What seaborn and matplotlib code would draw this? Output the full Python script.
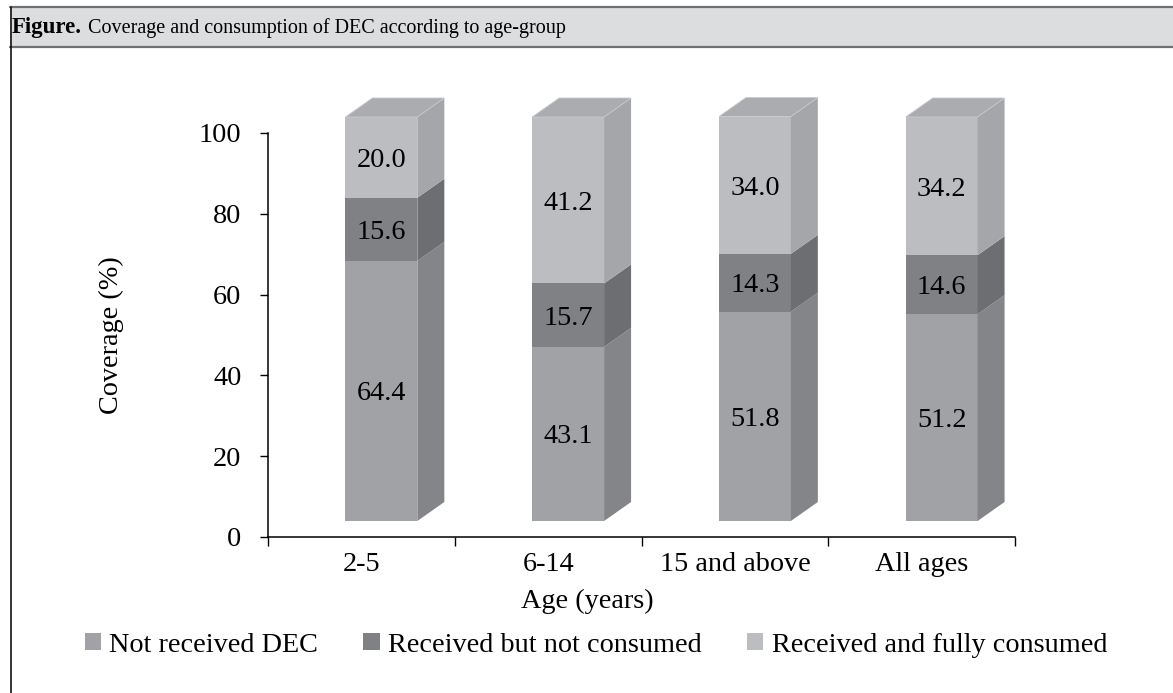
import numpy as np
import pandas as pd
import matplotlib
matplotlib.use("Agg")
import matplotlib.pyplot as plt
import seaborn as sns
from matplotlib.patches import Polygon, Rectangle, Patch
from matplotlib.lines import Line2D
from matplotlib.transforms import Affine2D

# ── Data ───────────────────────────────────────────────────────────────────────
age_groups = ["2-5", "6-14", "15 and above", "All ages"]
not_received = [64.4, 43.1, 51.8, 51.2]
received_not_consumed = [15.6, 15.7, 14.3, 14.6]
fully_consumed = [20.0, 41.2, 34.0, 34.2]
series_names = ["Not received DEC", "Received but not consumed",
                "Received and fully consumed"]
y_ticks = [0, 20, 40, 60, 80, 100]

title_bold = "Figure."
title_rest = "Coverage and consumption of DEC according to age-group"

# ── Style ──────────────────────────────────────────────────────────────────────
front_colors = ["#a1a2a6", "#808185", "#bcbdc1"]
side_colors = ["#848589", "#6d6e71", "#a5a6aa"]
top_color = "#abacb0"
FRONT_DX, FRONT_DY = 20, 16   # px shift of the front faces
DEPTH_DX, DEPTH_DY = 27, 19   # px depth of the 3d boxes
BAR_W = 0.385
FS = 20.3
W, H = 1173, 693

sns.set_theme(style="white")
plt.rcParams["font.family"] = ["Liberation Serif", "DejaVu Serif"]

fig = plt.figure(figsize=(W / 100, H / 100), dpi=100)
ax = fig.add_axes([268 / W, 1 - 537 / H, (1015 - 268) / W, 404 / H])

# ── Stacked front faces (overdrawn cumulative bars) ───────────────────────────
df = pd.DataFrame({"age": age_groups, "s0": not_received,
                   "s1": received_not_consumed, "s2": fully_consumed})
df["c0"] = df["s0"]
df["c1"] = df["c0"] + df["s1"]
df["c2"] = df["c1"] + df["s2"]

for col, c in zip(["c2", "c1", "c0"], front_colors[::-1]):
    sns.barplot(data=df, x="age", y=col, order=age_groups, color=c,
                saturation=1, width=BAR_W, linewidth=0, errorbar=None, ax=ax)

ax.set_xlim(-0.5, 3.5)
ax.set_ylim(0, 100)

front_tr = ax.transData + Affine2D().translate(FRONT_DX, FRONT_DY)
for p in ax.patches:
    p.set_transform(front_tr)
    p.set_clip_on(False)


def shifted(x, y, px, py):
    X, Y = ax.transData.transform((x, y))
    return ax.transData.inverted().transform((X + px, Y + py))


# ── Side and top faces, value labels ──────────────────────────────────────────
series_vals = [not_received, received_not_consumed, fully_consumed]
for i in range(len(age_groups)):
    xl, xr = i - BAR_W / 2, i + BAR_W / 2
    bottoms = [0, df["c0"][i], df["c1"][i]]
    tops = [df["c0"][i], df["c1"][i], df["c2"][i]]
    for k in range(3):
        b, t = bottoms[k], tops[k]
        pts = [shifted(xr, b, FRONT_DX, FRONT_DY),
               shifted(xr, t, FRONT_DX, FRONT_DY),
               shifted(xr, t, FRONT_DX + DEPTH_DX, FRONT_DY + DEPTH_DY),
               shifted(xr, b, FRONT_DX + DEPTH_DX, FRONT_DY + DEPTH_DY)]
        ax.add_patch(Polygon(pts, closed=True, facecolor=side_colors[k],
                             edgecolor="none", clip_on=False))
        ax.text(i, (b + t) / 2, f"{series_vals[k][i]:.1f}",
                transform=front_tr, ha="center", va="center_baseline",
                fontsize=FS, color="black")
    t = tops[-1]
    pts = [shifted(xl, t, FRONT_DX, FRONT_DY),
           shifted(xr, t, FRONT_DX, FRONT_DY),
           shifted(xr, t, FRONT_DX + DEPTH_DX, FRONT_DY + DEPTH_DY),
           shifted(xl, t, FRONT_DX + DEPTH_DX, FRONT_DY + DEPTH_DY)]
    ax.add_patch(Polygon(pts, closed=True, facecolor=top_color,
                         edgecolor="#c8c9cc", linewidth=0.6, clip_on=False))

# ── Axes ───────────────────────────────────────────────────────────────────────
ax.set_xticks(np.arange(-0.5, len(age_groups), 1))
ax.set_xticklabels([])
ax.set_xticks(range(len(age_groups)), minor=True)
ax.set_xticklabels(age_groups, minor=True)
ax.set_yticks(y_ticks)
ax.set_yticklabels([str(v) for v in y_ticks])
ax.tick_params(axis="x", which="major", bottom=True, length=6.5, width=1,
               color="black", direction="out")
ax.tick_params(axis="x", which="minor", bottom=True, length=0, pad=11,
               labelsize=FS, labelcolor="black")
ax.tick_params(axis="y", left=True, length=6, width=1, color="black",
               direction="out", pad=13, labelsize=FS, labelcolor="black")
for s in ["top", "right"]:
    ax.spines[s].set_visible(False)
for s in ["left", "bottom"]:
    ax.spines[s].set_color("black")
    ax.spines[s].set_linewidth(1.1)
ax.set_facecolor("none")

ax.set_ylabel("Coverage (%)", fontsize=FS, color="black")
ax.yaxis.set_label_coords(-0.193, 0.5)
ax.set_xlabel("Age (years)", fontsize=FS, color="black")
ax.xaxis.set_label_coords(0.427, -0.16)
ax.xaxis.label.set_verticalalignment("center")

# ── Legend ─────────────────────────────────────────────────────────────────────
handles = [Patch(facecolor=c, edgecolor="none") for c in front_colors]
fig.legend(handles, series_names, loc="center",
           bbox_to_anchor=(596 / W, 1 - 645 / H), ncol=3, frameon=False,
           fontsize=FS, handlelength=0.58, handleheight=0.58,
           handletextpad=0.3, columnspacing=1.6, labelcolor="black")

# ── Header box ─────────────────────────────────────────────────────────────────
fig.add_artist(Rectangle((10 / W, 1 - 47 / H), 1 - 10 / W, 40 / H,
                         transform=fig.transFigure, facecolor="#dcdddf",
                         edgecolor="none"))
for yy in [7, 47]:
    fig.add_artist(Line2D([10 / W, 1], [1 - yy / H] * 2, color="#707070",
                          lw=1.6, transform=fig.transFigure))
fig.add_artist(Line2D([10.5 / W] * 2, [1 - 7 / H, 0], color="black", lw=1.1,
                      transform=fig.transFigure))

t1 = fig.text(12 / W, 1 - 28 / H, title_bold, fontweight="bold", fontsize=16.5,
              va="center", ha="left", color="black")
renderer = fig.canvas.get_renderer()
bb = t1.get_window_extent(renderer=renderer)
fig.text((bb.x1 + 6) / W, 1 - 28 / H, title_rest, fontsize=14.5,
         va="center", ha="left", color="black")

fig.savefig("out.png", dpi=100, facecolor="white")
